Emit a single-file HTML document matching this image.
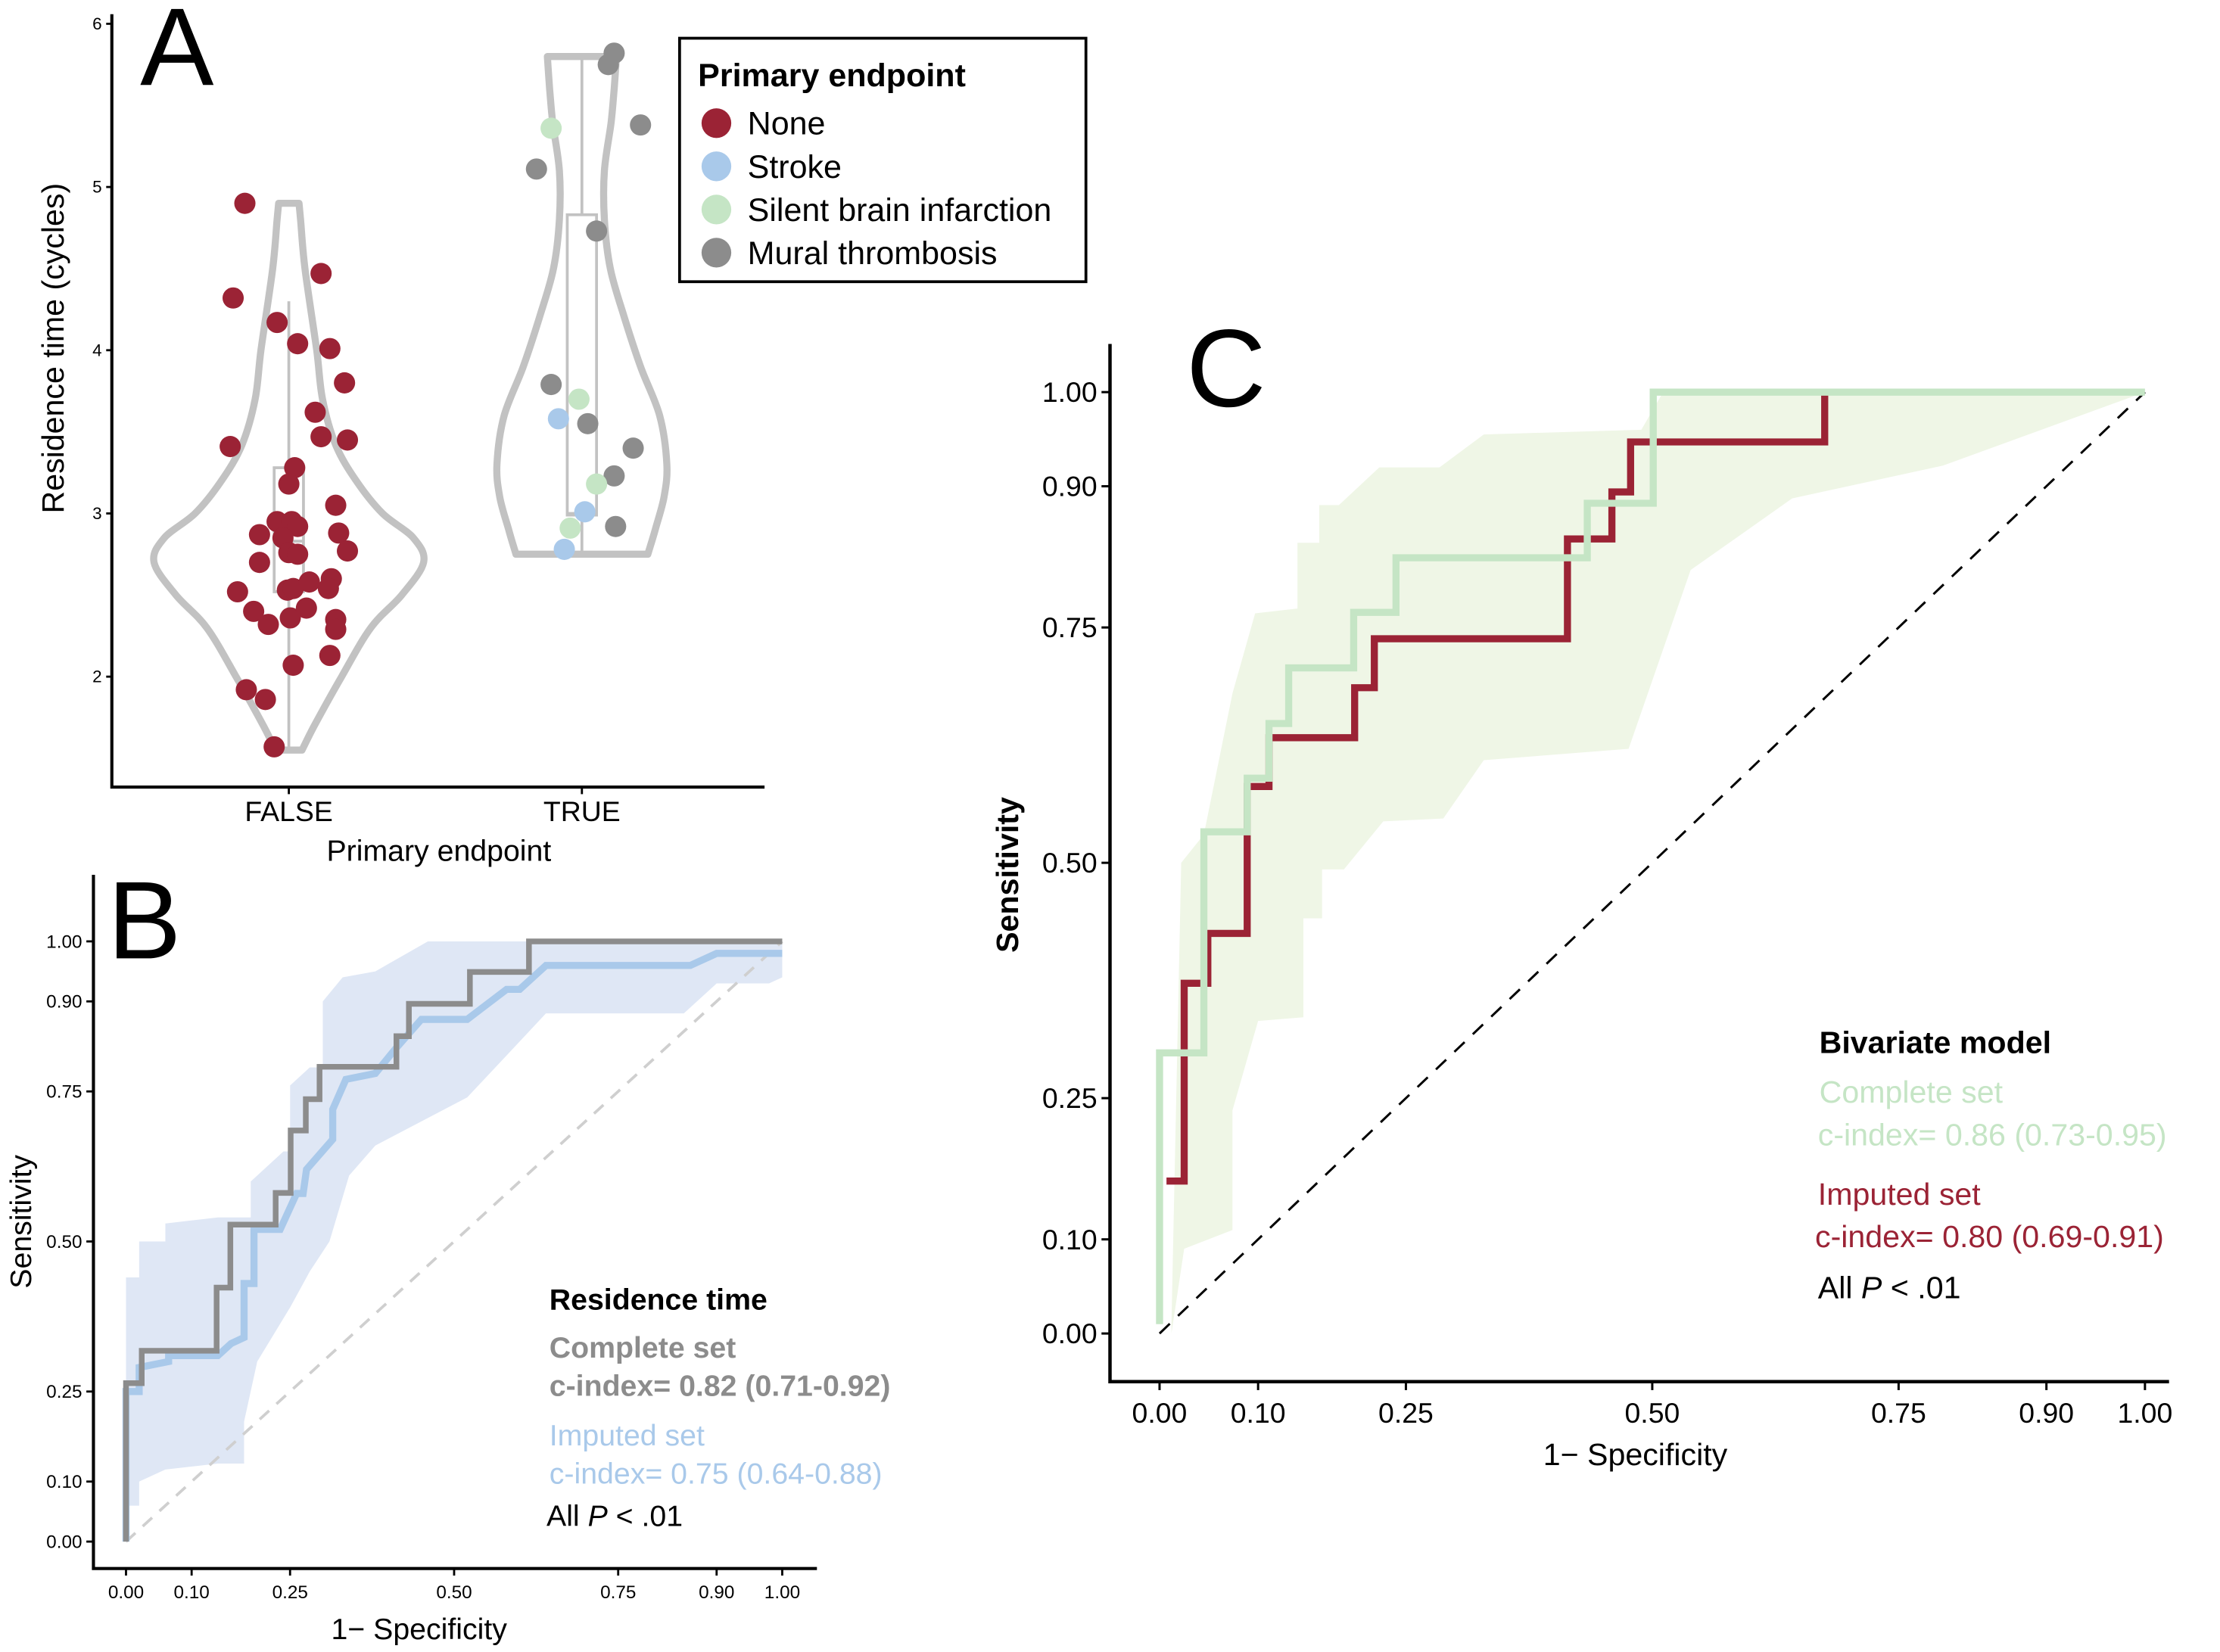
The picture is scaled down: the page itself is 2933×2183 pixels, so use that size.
<!DOCTYPE html>
<html><head><meta charset="utf-8"><style>
html,body{margin:0;padding:0;background:#fff;}
svg{display:block;font-family:"Liberation Sans",Arial,sans-serif;}
</style></head><body>
<svg id="fig" width="2933" height="2183" viewBox="0 0 1568 1167" preserveAspectRatio="none" xmlns="http://www.w3.org/2000/svg">
<rect width="1568" height="1167" fill="#fff"/>
<g id="pa"></g>
<g id="pb"></g>
<g id="pc"></g>
</svg>
<script>
// ---------- Panel A data ----------
const aCategories = ["FALSE", "TRUE"];
const aYTicks = [2, 3, 4, 5, 6];
const falseValues = [4.9,4.32,4.47,4.17,4.04,4.01,3.8,3.62,3.47,3.45,3.41,3.28,3.18,3.05,2.95,2.95,2.92,2.87,2.88,2.85,2.77,2.76,2.75,2.7,2.53,2.54,2.58,2.6,2.54,2.52,2.4,2.36,2.32,2.42,2.35,2.29,2.07,2.13,1.92,1.86,1.57];
const falseJitter = [-0.15,-0.19,0.11,-0.04,0.03,0.14,0.19,0.09,0.11,0.2,-0.2,0.02,0.0,0.16,-0.04,0.01,0.03,-0.1,0.17,-0.02,0.2,0.0,0.03,-0.1,-0.005,0.015,0.07,0.145,0.135,-0.175,-0.12,0.005,-0.07,0.06,0.16,0.16,0.015,0.14,-0.145,-0.08,-0.05];
const trueValues = [5.82,5.75,5.38,5.11,4.73,3.79,3.55,3.40,3.23,2.92,5.36,3.70,3.18,2.91,3.58,3.01,2.78];
const trueJitter = [0.11,0.09,0.2,-0.155,0.05,-0.105,0.02,0.175,0.11,0.115,-0.105,-0.01,0.05,-0.04,-0.08,0.01,-0.06];
const trueGroups = ["mural","mural","mural","mural","mural","mural","mural","mural","mural","mural","silent","silent","silent","silent","stroke","stroke","stroke"];
const violinFalseY = [1.55,1.7,2.0,2.3,2.5,2.7,2.85,3.0,3.2,3.42,3.7,4.0,4.5,4.8,4.9];
const violinFalseW = [0.045,0.087,0.18,0.28,0.385,0.46,0.425,0.32,0.23,0.16,0.115,0.095,0.055,0.04,0.035];
const violinTrueY = [2.75,2.9,3.1,3.3,3.6,3.9,4.2,4.5,4.8,5.1,5.4,5.6,5.8];
const violinTrueW = [0.225,0.25,0.28,0.29,0.265,0.2,0.145,0.097,0.077,0.077,0.1,0.11,0.118];
const boxFalse = [1.55, 2.52, 2.83, 3.28, 4.3];
const boxTrue = [2.75, 2.99, 3.0, 4.83, 5.8];
const legendLabels = ["None","Stroke","Silent brain infarction","Mural thrombosis"];
const colors = {none:"#9b2335", stroke:"#a9c9ea", silent:"#c5e5c5", mural:"#8c8c8c"};

// ---------- Panel B data ----------
const rocTicks = [0, 0.10, 0.25, 0.50, 0.75, 0.90, 1.00];
const bCompleteFpr = [0,0.024,0.138,0.159,0.228,0.251,0.274,0.295,0.412,0.431,0.524,0.614,1.0];
const bCompleteTpr = [0.264,0.318,0.423,0.528,0.581,0.685,0.737,0.791,0.842,0.896,0.949,1.0,1.0];
const bImpFpr = [0,0,0.02,0.02,0.065,0.065,0.14,0.16,0.18,0.18,0.195,0.195,0.235,0.26,0.27,0.275,0.315,0.315,0.335,0.38,0.41,0.45,0.52,0.58,0.6,0.64,0.86,0.9,1.0];
const bImpTpr = [0,0.25,0.25,0.29,0.30,0.31,0.31,0.33,0.34,0.43,0.43,0.52,0.52,0.58,0.58,0.62,0.67,0.72,0.77,0.78,0.82,0.87,0.87,0.92,0.92,0.96,0.96,0.98,0.98];
const bUpperFpr = [0,0.02,0.02,0.06,0.06,0.14,0.19,0.19,0.24,0.25,0.25,0.28,0.3,0.3,0.33,0.38,0.46,1.0];
const bUpperTpr = [0.44,0.44,0.5,0.5,0.53,0.54,0.54,0.6,0.65,0.65,0.76,0.79,0.79,0.9,0.94,0.95,1.0,1.0];
const bLowerFpr = [1.0,0.98,0.9,0.85,0.64,0.58,0.52,0.38,0.34,0.31,0.28,0.25,0.2,0.18,0.18,0.14,0.06,0.02,0.02,0.0];
const bLowerTpr = [0.94,0.93,0.93,0.88,0.88,0.81,0.74,0.66,0.61,0.5,0.45,0.39,0.3,0.2,0.13,0.13,0.12,0.1,0.06,0.06];

// ---------- Panel C data ----------
const cCompleteFpr = [0,0,0.045,0.045,0.089,0.089,0.111,0.111,0.131,0.131,0.197,0.197,0.24,0.24,0.434,0.434,0.501,0.501,1.0];
const cCompleteTpr = [0.01,0.298,0.298,0.533,0.533,0.59,0.59,0.648,0.648,0.707,0.707,0.766,0.766,0.824,0.824,0.882,0.882,1.0,1.0];
const cImpFpr = [0.007,0.007,0.025,0.025,0.049,0.049,0.089,0.089,0.111,0.111,0.198,0.198,0.218,0.218,0.414,0.414,0.459,0.459,0.478,0.478,0.675,0.675];
const cImpTpr = [0.162,0.162,0.162,0.372,0.372,0.425,0.425,0.581,0.581,0.633,0.633,0.686,0.686,0.738,0.738,0.844,0.844,0.894,0.894,0.947,0.947,1.0];
const cUpperFpr = [0.012,0.022,0.045,0.074,0.097,0.14,0.14,0.162,0.162,0.182,0.223,0.284,0.329,0.489,0.511,1.0];
const cUpperTpr = [0.01,0.5,0.53,0.68,0.765,0.77,0.84,0.84,0.88,0.88,0.92,0.92,0.955,0.96,1.0,1.0];
const cLowerFpr = [1.0,0.795,0.642,0.539,0.476,0.329,0.288,0.227,0.187,0.165,0.165,0.146,0.146,0.1,0.074,0.074,0.025,0.012];
const cLowerTpr = [1.0,0.922,0.887,0.811,0.621,0.609,0.547,0.544,0.493,0.493,0.441,0.441,0.336,0.332,0.237,0.11,0.09,0.0];

const NS="http://www.w3.org/2000/svg";
function mk(parent, tag, attrs, text){const e=document.createElementNS(NS,tag);for(const k in attrs)e.setAttribute(k,attrs[k]);if(text!==undefined)e.textContent=text;parent.appendChild(e);return e;}
function smooth(p){ // catmull-rom through points, returns segment string starting after first point
 let d='';
 for(let i=0;i<p.length-1;i++){
  const p0=p[Math.max(0,i-1)],p1=p[i],p2=p[i+1],p3=p[Math.min(p.length-1,i+2)];
  const c1=[p1[0]+(p2[0]-p0[0])/6,p1[1]+(p2[1]-p0[1])/6];
  const c2=[p2[0]-(p3[0]-p1[0])/6,p2[1]-(p3[1]-p1[1])/6];
  d+=`C${c1[0].toFixed(1)},${c1[1].toFixed(1)} ${c2[0].toFixed(1)},${c2[1].toFixed(1)} ${p2[0].toFixed(1)},${p2[1].toFixed(1)}`;
 }
 return d;}

// ===== Panel A =====
(function(){
const g=document.getElementById('pa');
const yA=v=>478-(v-2)*115.3;
const xC=i=>204+i*207;
const CW=207;
const axL=79, axB=556;
let e;
e=mk(g,'text',{x:125,y:60,'font-size':78,'text-anchor':'middle'},'A');

// violins
[[violinFalseY,violinFalseW,0],[violinTrueY,violinTrueW,1]].forEach(([ys,ws,i])=>{
 const left=ys.map((y,k)=>[xC(i)-ws[k]*CW,yA(y)]);
 const right=ys.map((y,k)=>[xC(i)+ws[k]*CW,yA(y)]).reverse();
 let d='M'+left[0][0].toFixed(1)+','+left[0][1].toFixed(1)+smooth(left)+'L'+right[0][0].toFixed(1)+','+right[0][1].toFixed(1)+smooth(right)+'Z';
 e=mk(g,'path',{d:d,fill:'none',stroke:'#c2c2c2','stroke-width':5,'stroke-linejoin':'round'});
 
 
});
// boxes
[[boxFalse,0],[boxTrue,1]].forEach(([b,i])=>{
 const x=xC(i), hw=0.05*CW;
 const bg=mk(g,'g',{stroke:'#c2c2c2','stroke-width':2,fill:'none'});
 
 
 mk(bg,'line',{x1:x,x2:x,y1:yA(b[0]),y2:yA(b[1])});
 mk(bg,'line',{x1:x,x2:x,y1:yA(b[3]),y2:yA(b[4])});
 mk(bg,'rect',{x:x-hw,y:yA(b[3]),width:2*hw,height:yA(b[1])-yA(b[3])});
 mk(bg,'line',{x1:x-hw,x2:x+hw,y1:yA(b[2]),y2:yA(b[2])});
});
// points
falseValues.forEach((v,k)=>{
 e=mk(g,'circle',{cx:xC(0)+falseJitter[k]*CW,cy:yA(v),r:7.5,fill:colors.none});
 
 
});
trueValues.forEach((v,k)=>{
 e=mk(g,'circle',{cx:xC(1)+trueJitter[k]*CW,cy:yA(v),r:7.5,fill:colors[trueGroups[k]]});
 
 
});
// axes
e=mk(g,'path',{d:`M${axL},10V${axB}H540`,fill:'none',stroke:'#000','stroke-width':2.2});

aYTicks.forEach(t=>{
 mk(g,'line',{x1:axL-4,x2:axL,y1:yA(t),y2:yA(t),stroke:'#000','stroke-width':1.5});
 e=mk(g,'text',{x:axL-7,y:yA(t)+4,'font-size':12,'text-anchor':'end'},String(t));
 
});
aCategories.forEach((c,i)=>{
 mk(g,'line',{x1:xC(i),x2:xC(i),y1:axB,y2:axB+5,stroke:'#000','stroke-width':1.5});
 e=mk(g,'text',{x:xC(i),y:580,'font-size':20,'text-anchor':'middle'},c);
 
});
e=mk(g,'text',{x:310,y:608,'font-size':21,'text-anchor':'middle'},'Primary endpoint');

e=mk(g,'text',{x:0,y:0,'font-size':22,'text-anchor':'middle',transform:'translate(45,246) rotate(-90)'},'Residence time (cycles)');

// legend
const lg=mk(g,'g',{});

mk(lg,'rect',{x:480,y:27,width:287,height:172,fill:'#fff',stroke:'#000','stroke-width':2});
e=mk(lg,'text',{x:493,y:61,'font-size':23,'font-weight':'bold'},'Primary endpoint');

const lc=[colors.none,colors.stroke,colors.silent,colors.mural];
legendLabels.forEach((l,k)=>{
 const y=87+k*30.5;
 e=mk(lg,'circle',{cx:506,cy:y,r:10.5,fill:lc[k]});
 
 e=mk(lg,'text',{x:528,y:y+8,'font-size':23},l);
 
});
})();

function stepPath(xs,ys,xf,yf){return 'M'+xs.map((x,k)=>xf(x).toFixed(1)+','+yf(ys[k]).toFixed(1)).join('L');}
function stairPath(xs,ys,xf,yf){
 let d='M'+xf(xs[0]).toFixed(1)+','+yf(0).toFixed(1)+'L'+xf(xs[0]).toFixed(1)+','+yf(ys[0]).toFixed(1);
 for(let k=1;k<xs.length;k++){d+='L'+xf(xs[k]).toFixed(1)+','+yf(ys[k-1]).toFixed(1)+'L'+xf(xs[k]).toFixed(1)+','+yf(ys[k]).toFixed(1);}
 return d;}

// ===== Panel B =====
(function(){
const g=document.getElementById('pb');
const xB=v=>89+v*463.5, yB=v=>1089-v*424;
let e;
e=mk(g,'path',{d:stepPath(bUpperFpr.concat(bLowerFpr),bUpperTpr.concat(bLowerTpr),xB,yB)+'Z',fill:'#dfe7f5'});

e=mk(g,'line',{x1:xB(0),y1:yB(0),x2:xB(1),y2:yB(1),stroke:'#cfcfcf','stroke-width':2,'stroke-dasharray':'9,7'});

e=mk(g,'path',{d:stepPath(bImpFpr,bImpTpr,xB,yB),fill:'none',stroke:'#a9c9ea','stroke-width':5,'stroke-linejoin':'miter'});

e=mk(g,'path',{d:stairPath(bCompleteFpr,bCompleteTpr,xB,yB),fill:'none',stroke:'#8c8c8c','stroke-width':4});

e=mk(g,'path',{d:'M66,618V1108H577',fill:'none',stroke:'#000','stroke-width':2.2});

rocTicks.forEach(t=>{
 mk(g,'line',{x1:61,x2:66,y1:yB(t),y2:yB(t),stroke:'#000','stroke-width':1.5});
 e=mk(g,'text',{x:58,y:yB(t)+4.5,'font-size':13,'text-anchor':'end'},t.toFixed(2));
 
 mk(g,'line',{x1:xB(t),x2:xB(t),y1:1108,y2:1113,stroke:'#000','stroke-width':1.5});
 e=mk(g,'text',{x:xB(t),y:1129,'font-size':13,'text-anchor':'middle'},t.toFixed(2));
 
});
e=mk(g,'text',{x:296,y:1158,'font-size':21,'text-anchor':'middle'},'1− Specificity');

e=mk(g,'text',{x:0,y:0,'font-size':21,'text-anchor':'middle',transform:'translate(22,863) rotate(-90)'},'Sensitivity');

e=mk(g,'text',{x:76,y:677,'font-size':78},'B');

const L=[['Residence time',925,'#000','bold'],['Complete set',959,'#8c8c8c','bold'],['c-index= 0.82 (0.71-0.92)',986,'#8c8c8c','bold'],['Imputed set',1021,'#a9c9ea','normal'],['c-index= 0.75 (0.64-0.88)',1048,'#a9c9ea','normal']];
L.forEach(([t,y,c,w])=>{e=mk(g,'text',{x:388,y:y,'font-size':21,fill:c,'font-weight':w},t);
 });
e=mk(g,'text',{x:386,y:1078,'font-size':21});
e.innerHTML='All <tspan font-style="italic">P</tspan> &lt; .01';

})();

// ===== Panel C =====
(function(){
const g=document.getElementById('pc');
const xC=v=>819+v*696, yC=v=>942-v*665;
let e;
e=mk(g,'path',{d:stepPath(cUpperFpr.concat(cLowerFpr),cUpperTpr.concat(cLowerTpr),xC,yC)+'Z',fill:'#eff6e6'});

e=mk(g,'line',{x1:xC(0),y1:yC(0),x2:xC(1),y2:yC(1),stroke:'#000','stroke-width':1.6,'stroke-dasharray':'10,8'});

e=mk(g,'path',{d:stepPath(cImpFpr,cImpTpr,xC,yC),fill:'none',stroke:'#9b2335','stroke-width':5});

e=mk(g,'path',{d:stepPath(cCompleteFpr,cCompleteTpr,xC,yC),fill:'none',stroke:'#c5e5c5','stroke-width':5});

e=mk(g,'path',{d:'M784,243V976H1532',fill:'none',stroke:'#000','stroke-width':2.4});

rocTicks.forEach(t=>{
 mk(g,'line',{x1:778,x2:784,y1:yC(t),y2:yC(t),stroke:'#000','stroke-width':1.6});
 e=mk(g,'text',{x:775,y:yC(t)+7,'font-size':20,'text-anchor':'end'},t.toFixed(2));
 
 mk(g,'line',{x1:xC(t),x2:xC(t),y1:976,y2:982,stroke:'#000','stroke-width':1.6});
 e=mk(g,'text',{x:xC(t),y:1005,'font-size':20,'text-anchor':'middle'},t.toFixed(2));
 
});
e=mk(g,'text',{x:1155,y:1035,'font-size':22,'text-anchor':'middle'},'1− Specificity');

e=mk(g,'text',{x:0,y:0,'font-size':22,'font-weight':'bold','text-anchor':'middle',transform:'translate(719,618) rotate(-90)'},'Sensitivity');

e=mk(g,'text',{x:866,y:287,'font-size':78,'text-anchor':'middle'},'C');

const L=[['Bivariate model',1285,744,'#000','bold'],['Complete set',1285,779,'#c5e5c5','normal'],['c-index= 0.86 (0.73-0.95)',1284,809,'#c5e5c5','normal'],['Imputed set',1284,851,'#9b2335','normal'],['c-index= 0.80 (0.69-0.91)',1282,881,'#9b2335','normal']];
L.forEach(([t,x,y,c,w])=>{e=mk(g,'text',{x:x,y:y,'font-size':22,fill:c,'font-weight':w},t);
 });
e=mk(g,'text',{x:1284,y:917,'font-size':22});
e.innerHTML='All <tspan font-style="italic">P</tspan> &lt; .01';

})();
</script>
</body></html>
